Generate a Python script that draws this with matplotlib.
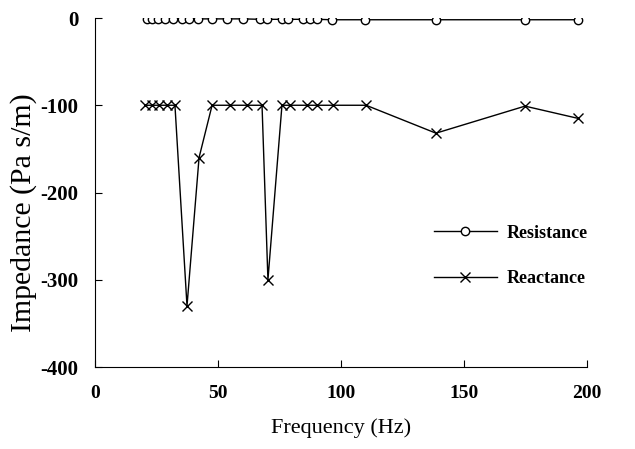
import matplotlib
matplotlib.use("Agg")
import matplotlib.pyplot as plt

# Data
res_freq = [21.1, 23.2, 25.6, 28.5, 31.7, 35.4, 38.2, 41.9, 47.6, 53.7, 60.2, 67.1,
            69.9, 76.0, 78.5, 84.6, 87.4, 90.2, 96.3, 109.8, 138.6, 174.8, 196.3]
res_vals = [-1, -1, -1, -1, -1, -1, -1, -1, -1, -1, -1, -1.5,
            -1.5, -1.5, -1.5, -1.5, -1.5, -1.5, -2, -2, -2, -2, -2]

rea_freq = [20.3, 23.2, 26.0, 29.3, 32.5, 37.4, 42.3, 47.6, 54.9, 61.8, 67.9, 70.3,
            76.0, 79.3, 86.2, 90.2, 96.7, 110.2, 138.6, 174.8, 196.3]
rea_vals = [-100, -100, -100, -100, -100, -330, -160, -100, -100, -100, -100, -300,
            -100, -100, -100, -100, -100, -100, -132, -101, -115]

x_ticks = [0, 50, 100, 150, 200]
y_ticks = [0, -100, -200, -300, -400]

plt.rcParams['font.family'] = ['Liberation Serif', 'DejaVu Serif']

fig = plt.figure(figsize=(6.35, 4.49), dpi=100)
ax = fig.add_axes([0.1496, 0.1826, 0.9244 - 0.1496, 0.9599 - 0.1826])

ax.plot(res_freq, res_vals, color='black', lw=1.0, marker='o', markersize=6,
        markerfacecolor='white', markeredgecolor='black', markeredgewidth=1.0,
        label='Resistance', zorder=3)
ax.plot(rea_freq, rea_vals, color='black', lw=1.0, marker='x', markersize=7,
        markeredgewidth=1.0, label='Reactance', zorder=3)

ax.set_xlim(0, 200)
ax.set_ylim(-400, 0)
ax.set_xticks(x_ticks)
ax.set_yticks(y_ticks)
ax.set_xticklabels([str(v) for v in x_ticks], fontsize=14, fontweight='bold')
ax.set_yticklabels([str(v) for v in y_ticks], fontsize=15, fontweight='bold')
ax.tick_params(direction='in', length=5, width=0.8)
ax.tick_params(axis='x', pad=13)
ax.tick_params(axis='y', pad=12)

for s in ['top', 'right']:
    ax.spines[s].set_visible(False)
for s in ['left', 'bottom']:
    ax.spines[s].set_linewidth(0.8)

ax.set_xlabel('Frequency (Hz)', fontsize=16, labelpad=12)
ax.set_ylabel('Impedance (Pa s/m)', fontsize=21.5)
ax.yaxis.set_label_coords(-0.118, 0.441)

leg = ax.legend(loc='center left', bbox_to_anchor=(0.655, 0.318), frameon=False,
                prop={'family': 'Liberation Serif', 'size': 13, 'weight': 'bold'},
                handlelength=3.5, handletextpad=0.55, labelspacing=1.6)

fig.savefig('out.png', dpi=100)
